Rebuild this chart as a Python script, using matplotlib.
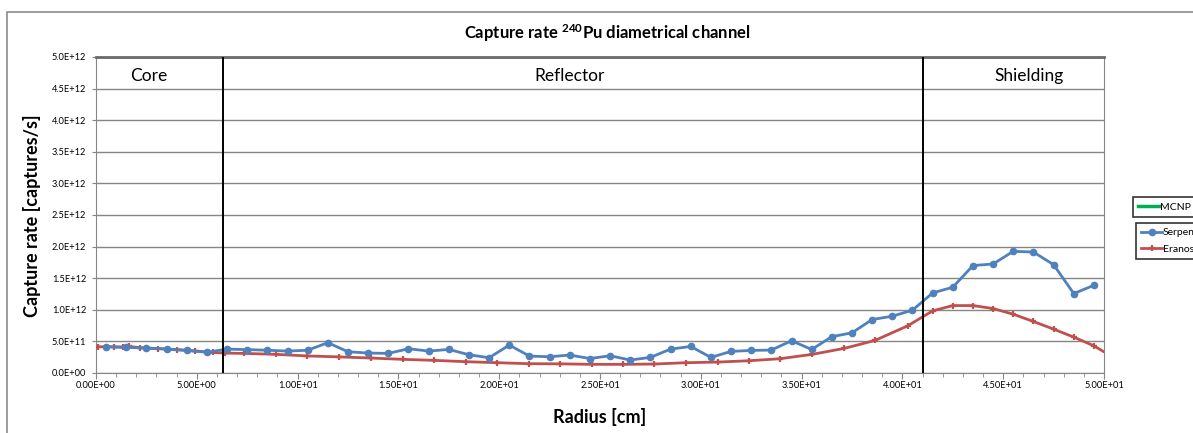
import matplotlib.pyplot as plt
import numpy as np
from matplotlib.lines import Line2D
from matplotlib.patches import Rectangle
from matplotlib.ticker import FuncFormatter, MultipleLocator

plt.rcParams['font.family'] = ['Lato', 'DejaVu Sans']
plt.rcParams['mathtext.fontset'] = 'custom'
plt.rcParams['mathtext.rm'] = 'Lato'
plt.rcParams['mathtext.bf'] = 'Lato:bold'

# Serpent values (radius in cm, capture rate in 1e12 captures/s)
serpent_r = [0.5, 1.5, 2.5, 3.5, 4.5, 5.5, 6.5, 7.5, 8.5, 9.5,
             10.5, 11.5, 12.5, 13.5, 14.5, 15.5, 16.5, 17.5, 18.5, 19.5,
             20.5, 21.5, 22.5, 23.5, 24.5, 25.5, 26.5, 27.5, 28.5, 29.5,
             30.5, 31.5, 32.5, 33.5, 34.5, 35.5, 36.5, 37.5, 38.5, 39.5,
             40.5, 41.5, 42.5, 43.5, 44.5, 45.5, 46.5, 47.5, 48.5, 49.5]
serpent_v = [0.415, 0.405, 0.395, 0.38, 0.357, 0.328, 0.378, 0.37, 0.36, 0.347,
             0.36, 0.48, 0.336, 0.316, 0.31, 0.384, 0.347, 0.373, 0.289, 0.242,
             0.442, 0.268, 0.257, 0.284, 0.229, 0.273, 0.205, 0.247, 0.378, 0.42,
             0.247, 0.342, 0.357, 0.363, 0.51, 0.373, 0.575, 0.636, 0.846, 0.899,
             0.994, 1.267, 1.357, 1.70, 1.725, 1.925, 1.914, 1.714, 1.257, 1.388]

# Eranos values
eranos_r = [0.12, 0.89, 1.36, 1.66, 2.18, 3.08, 4.0, 4.91, 5.8, 6.4,
            7.34, 8.93, 10.47, 12.05, 13.62, 15.21, 16.77, 18.34, 19.91, 21.46,
            23.0, 24.59, 26.14, 27.7, 29.27, 30.85, 32.4, 33.93, 35.53, 37.12,
            38.64, 40.26, 41.5, 42.5, 43.5, 44.5, 45.5, 46.5, 47.5, 48.5,
            49.5, 50.5]
eranos_v = [0.415, 0.415, 0.41, 0.42, 0.40, 0.385, 0.37, 0.35, 0.325, 0.315,
            0.31, 0.295, 0.27, 0.255, 0.237, 0.216, 0.2, 0.179, 0.163, 0.147,
            0.145, 0.137, 0.137, 0.142, 0.163, 0.173, 0.194, 0.226, 0.295, 0.39,
            0.515, 0.746, 0.983, 1.067, 1.067, 1.02, 0.93, 0.815, 0.694, 0.568,
            0.43, 0.24]

# region boundaries and labels
boundaries = [6.28, 41.0]
regions = ["Core", "Reflector", "Shielding"]
region_x = [2.63, 23.5, 46.3]

W, H = 1193, 433
fig = plt.figure(figsize=(W / 100, H / 100), dpi=100)
ax = fig.add_axes([96 / W, 1 - 373 / H, 1008 / W, 316 / H])

# chart area border
fig.patches.append(Rectangle((7 / W, -0.1), 1.2, 1 - 12 / H + 0.1, transform=fig.transFigure,
                             fill=False, edgecolor='#8c8c8c', linewidth=1.2, zorder=0))

serp = np.array(serpent_v) * 1e12
eran = np.array(eranos_v) * 1e12

ax.plot(serpent_r, serp, color='#4F81BD', linewidth=2, marker='o', markersize=4.5, zorder=4)
ax.plot(eranos_r, eran, color='#C0504D', linewidth=2, marker='+', markersize=4.5,
        markeredgewidth=1.6, zorder=3)

for b in boundaries:
    ax.axvline(b, color='black', linewidth=1.4, zorder=5)

for name, x in zip(regions, region_x):
    ax.text(x, 4.7e12, name, ha='center', va='center', fontsize=12.5)

ax.set_xlim(0, 50)
ax.set_ylim(0, 5e12)
ax.xaxis.set_major_locator(MultipleLocator(5))
ax.xaxis.set_minor_locator(MultipleLocator(1))
ax.yaxis.set_major_locator(MultipleLocator(0.5e12))
ax.xaxis.set_major_formatter(FuncFormatter(lambda v, pos: f"{v:.2E}"))
ax.yaxis.set_major_formatter(FuncFormatter(lambda v, pos: f"{v:.1E}"))
ax.tick_params(axis='both', which='both', direction='out', color='#868686', labelsize=6.7)
ax.tick_params(axis='x', which='major', length=4, pad=2)
ax.tick_params(axis='x', which='minor', length=3)
ax.tick_params(axis='y', which='major', length=3, pad=4)
ax.grid(axis='y', color='#868686', linewidth=1)
ax.set_axisbelow(True)
for side in ['left', 'bottom', 'right']:
    ax.spines[side].set_color('#868686')
ax.spines['top'].set_color('#6a6a6a')
ax.spines['top'].set_linewidth(2)

fig.text(607 / W, 1 - 33 / H, "Capture rate $\\mathbf{^{240}}$Pu diametrical channel",
         ha='center', va='center', fontsize=12, fontweight='bold')
fig.text(32 / W, 1 - 216 / H, "Capture rate [captures/s]", rotation=90,
         ha='center', va='center', fontsize=13, fontweight='bold')
fig.text(600 / W, 1 - 417 / H, "Radius [cm]", ha='center', va='center',
         fontsize=13, fontweight='bold')

# legends (cut off by the right edge, as in the original)
mcnp = Line2D([], [], color='#00B050', linewidth=2.5)
leg1 = fig.legend([mcnp], ["MCNP 6"], loc='upper left', bbox_to_anchor=(1133 / W, 1 - 197 / H),
                  fontsize=7.5, frameon=True, fancybox=False, edgecolor='black',
                  handlelength=2.0, handletextpad=0.1, borderpad=0.5, borderaxespad=0)
leg1.get_frame().set_linewidth(1.2)
serp_h = Line2D([], [], color='#4F81BD', linewidth=2, marker='o', markersize=4.5)
eran_h = Line2D([], [], color='#C0504D', linewidth=2, marker='+', markersize=4.5, markeredgewidth=1.6)
leg2 = fig.legend([serp_h, eran_h], ["Serpent", "Eranos"], loc='upper left',
                  bbox_to_anchor=(1136 / W, 1 - 223 / H), fontsize=7.5, frameon=True,
                  fancybox=False, edgecolor='black', handlelength=2.0, handletextpad=0.1,
                  borderpad=0.5, labelspacing=0.7, borderaxespad=0)
leg2.get_frame().set_linewidth(1.2)

fig.savefig("out.png", dpi=100)
